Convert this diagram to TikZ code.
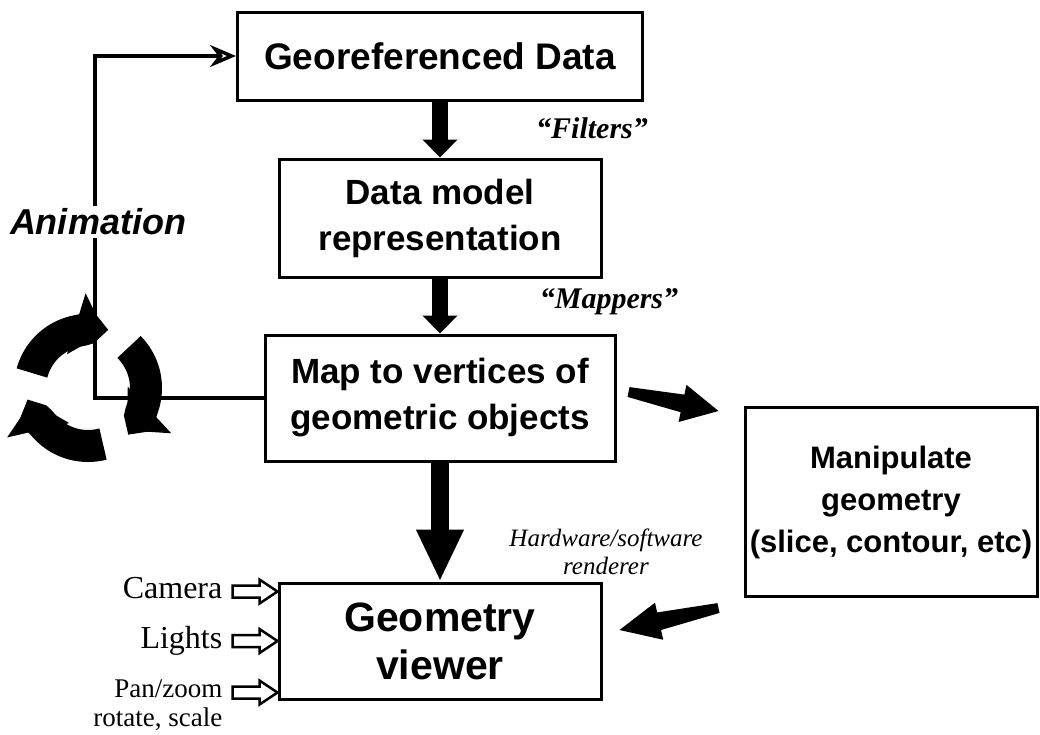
\documentclass[tikz,border=0pt]{standalone}
\usepackage{fontspec}
\setmainfont{Liberation Serif}
\newfontfamily\arialish{Liberation Sans}
\usetikzlibrary{arrows.meta,calc,positioning}
\newcommand{\boxfont}[2]{\arialish\bfseries\fontsize{#1}{#2}\selectfont}
\tikzset{box/.style={draw, line width=3pt, align=center, inner sep=0pt, font=\boxfont{35}{46}}, fatdown/.style={line width=16pt, -{Triangle[length=18pt 0 0, width=34pt 0 0]}}, loopline/.style={line width=3.5pt}, cyclearrow/.style={line width=32pt, -{Triangle[length=30pt 0 0, width=62pt 0 0]}}, hollow/.style={line width=2.5pt, line join=miter}, inlab/.style={align=right, inner sep=0pt}, quote/.style={font=\bfseries\itshape\fontsize{30}{32}\selectfont}, note/.style={font=\itshape\fontsize{25}{28}\selectfont, align=center}}
\newcommand{\wedgearrow}[2]{\fill ($(#1)!5pt!90:(#2)$) -- ($(#1)!.6!(#2)!9pt!90:(#2)$) -- ($(#1)!.6!(#2)!19pt!90:(#2)$) -- (#2) -- ($(#1)!.6!(#2)!19pt!-90:(#2)$) -- ($(#1)!.6!(#2)!9pt!-90:(#2)$) -- ($(#1)!5pt!-90:(#2)$) -- cycle;}
\newcommand{\hollowin}[1]{\draw[hollow] (#1) -- ++(-18,-12) -- ++(0,6) -- ++(-27,0) -- ++(0,12) -- ++(27,0) -- ++(0,6) -- cycle;}

\begin{document}
\begin{tikzpicture}[x=1pt, y=-1pt]
\useasboundingbox (0,0) rectangle (1040,734);
% the five stages
\node[box, minimum width=405pt, minimum height=88pt, font=\boxfont{37}{44}] (geo) at (440,56) {Georeferenced Data};
\node[box, minimum width=322pt, minimum height=118pt] (model) at (440,218) {Data model\\representation};
\node[box, minimum width=350pt, minimum height=126pt] (mapv) at (440,398) {Map to vertices of\\geometric objects};
\node[box, minimum width=292pt, minimum height=189pt, font=\boxfont{31}{42}] (manip) at (891,502) {Manipulate\\geometry\\(slice, contour, etc)};
\node[box, minimum width=322pt, minimum height=116pt, font=\boxfont{41}{48}] (viewer) at (440,641) {Geometry\\viewer};
% main flow
\draw[fatdown] (geo) -- (model);
\draw[fatdown] (model) -- (mapv);
\draw[fatdown, line width=18pt, -{Triangle[length=52pt 0 0, width=44pt 0 0]}] (mapv) -- (viewer);
\node[quote] (filt) at (592,128) {“Filters”};
\node[quote] (mapp) at (609,302) {“Mappers”};
\node[note] (rend) at (606,552) {Hardware/software\\renderer};
% to and from the manipulation box
\coordinate (w1a) at ($(mapv.east)+(12,-6)$);
\coordinate (w1b) at ($(manip.north west)+(-25,5)$);
\coordinate (w2a) at ($(manip.south west)+(-25,10)$);
\coordinate (w2b) at ($(viewer.east)+(17,-11)$);
\wedgearrow{w1a}{w1b}
\wedgearrow{w2a}{w2b}
% animation loop
\coordinate (loopx) at (95,0);
\draw[loopline, -{Stealth[open, length=26pt 0 0, width=22pt 0 0]}] (mapv.west) -- (mapv.west -| loopx) |- (geo.west);
\node[font=\arialish\bfseries\itshape\fontsize{36}{40}\selectfont, fill=white, inner sep=3pt] (anim) at (98,222) {Animation};
\coordinate (icon) at (88,388);
\foreach \a in {-165,-45,75} \draw[cyclearrow] ($(icon)+(\a:58)$) arc[start angle=\a, end angle=\a+92, radius=58];
% viewer inputs
\coordinate (camtip) at ($(viewer.north west)+(0,10)$);
\coordinate (littip) at (viewer.west);
\coordinate (pantip) at ($(viewer.south west)+(0,-8)$);
\hollowin{camtip}
\hollowin{littip}
\hollowin{pantip}
\node[inlab, font=\fontsize{32}{34}\selectfont, left=55pt of camtip, yshift=3pt] (cam) {Camera};
\node[inlab, font=\fontsize{32}{34}\selectfont, left=55pt of littip] (lit) {Lights};
\node[inlab, font=\fontsize{27}{29}\selectfont, left=55pt of pantip, yshift=-13pt] (pan) {Pan/zoom\\rotate, scale};
\end{tikzpicture}
\end{document}
